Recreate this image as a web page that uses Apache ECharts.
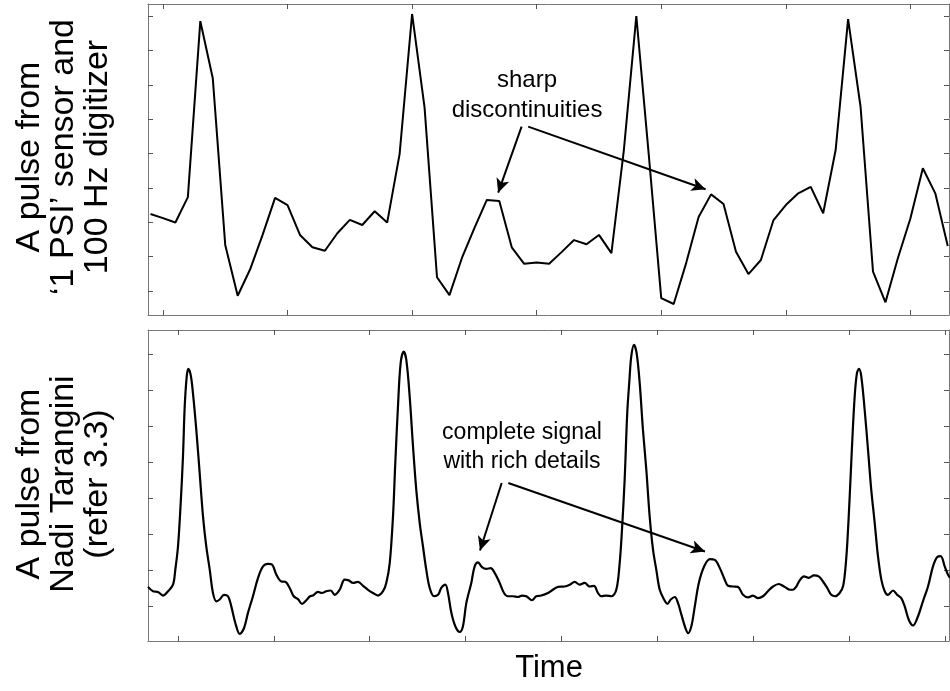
<!DOCTYPE html>
<html>
<head>
<meta charset="utf-8">
<script src="https://cdn.jsdelivr.net/npm/echarts@6/dist/echarts.min.js"></script>
<style>
  html, body { margin: 0; padding: 0; background: #fff; }
  #chart { width: 950px; height: 691px; }
</style>
</head>
<body>
<div id="chart"></div>
<script>
// top panel: '1 PSI' sensor, 100 Hz -> one value per sample, first sample index -1
const topFirstSample = -1;
const topValues = [
    2.24, 2.12, 1.99, 2.73, 7.85, 6.19, 1.34, -0.14, 0.63, 1.63,
    2.71, 2.50, 1.63, 1.27, 1.17, 1.68, 2.07, 1.92, 2.32, 1.99,
    3.99, 8.06, 5.34, 0.40, -0.12, 0.96, 1.83, 2.65, 2.62, 1.27,
    0.79, 0.83, 0.79, 1.13, 1.48, 1.36, 1.63, 1.10, 4.10, 8.00,
    3.96, -0.21, -0.38, 0.81, 2.15, 2.81, 2.53, 1.14, 0.49, 0.90,
    2.05, 2.50, 2.84, 3.03, 2.26, 4.10, 7.91, 5.36, 0.56, -0.33,
    0.96, 2.11, 3.57, 2.84, 1.31
];
const topTicksX = [0, 10, 20, 30, 40, 50, 60];
const topTicksY = [0, 1, 2, 3, 4, 5, 6, 7, 8];

// bottom panel: Nadi Tarangini pulse
const bottomTime = [
    -3.13, -2.61, -2.09, -1.56, -1.04, -0.52, -0.28, 0.00, 0.28, 0.52,
    0.70, 0.91, 1.07, 1.32, 1.56, 1.91, 2.26, 2.61, 2.95, 3.31,
    3.65, 4.00, 4.35, 4.80, 5.22, 5.56, 5.98, 6.44, 6.89, 7.30,
    7.82, 8.35, 8.87, 9.39, 9.81, 10.26, 10.78, 11.19, 11.65, 12.07,
    12.52, 12.94, 13.39, 13.77, 14.08, 14.61, 15.02, 15.47, 15.93, 16.35,
    16.87, 17.39, 17.81, 18.26, 18.78, 19.30, 19.82, 20.34, 20.87, 21.39,
    21.73, 22.09, 22.43, 22.67, 22.95, 23.23, 23.55, 23.82, 24.17, 24.52,
    24.86, 25.22, 25.56, 25.90, 26.26, 26.71, 27.13, 27.47, 27.89, 28.17,
    28.52, 28.93, 29.39, 29.73, 30.08, 30.60, 30.95, 31.30, 31.72, 32.17,
    32.62, 33.04, 33.56, 34.01, 34.43, 34.95, 35.47, 35.89, 36.34, 36.93,
    37.38, 37.90, 38.60, 39.12, 39.64, 40.34, 40.87, 41.39, 41.91, 42.43,
    42.95, 43.40, 43.82, 44.16, 44.68, 45.21, 45.73, 46.08, 46.32, 46.60,
    46.87, 47.10, 47.29, 47.57, 47.85, 48.17, 48.51, 48.86, 49.21, 49.56,
    49.90, 50.26, 50.71, 51.06, 51.41, 51.83, 52.17, 52.52, 52.94, 53.22,
    53.56, 53.92, 54.34, 54.90, 55.49, 56.01, 56.53, 57.04, 57.38, 57.90,
    58.42, 58.95, 59.47, 59.99, 60.51, 61.03, 61.55, 62.08, 62.67, 63.30,
    63.85, 64.16, 64.51, 64.86, 65.31, 65.80, 66.35, 66.84, 67.29, 67.74,
    68.16, 68.57, 69.03, 69.38, 69.62, 69.83, 70.08, 70.32, 70.60, 70.84,
    71.05, 71.29, 71.64, 71.99, 72.33, 72.69, 73.03, 73.38, 73.73, 74.07,
    74.60, 75.04, 75.46, 75.82, 76.24, 76.68, 77.20, 77.72, 78.25, 78.77,
    79.22, 79.57, 79.99, 80.33, 80.54
];
const bottomAmp = [
    0.54, 0.42, 0.40, 0.30, 0.42, 0.60, 1.02, 1.66, 2.86, 4.16,
    5.54, 6.37, 6.58, 6.42, 5.91, 4.89, 3.70, 2.49, 1.66, 1.02,
    0.37, 0.14, 0.19, 0.32, 0.28, 0.00, -0.46, -0.76, -0.60, -0.18,
    0.28, 0.79, 1.11, 1.18, 1.16, 0.88, 0.69, 0.68, 0.51, 0.28,
    0.20, 0.07, 0.17, 0.28, 0.30, 0.40, 0.37, 0.42, 0.44, 0.32,
    0.46, 0.74, 0.72, 0.65, 0.68, 0.57, 0.46, 0.37, 0.30, 0.42,
    0.65, 1.20, 2.49, 3.97, 5.54, 6.74, 7.06, 6.83, 5.82, 4.43,
    3.23, 2.31, 1.66, 1.02, 0.51, 0.28, 0.32, 0.51, 0.60, 0.37,
    -0.18, -0.55, -0.71, -0.55, 0.09, 0.65, 1.11, 1.22, 1.09, 1.04,
    1.06, 0.93, 0.65, 0.37, 0.28, 0.28, 0.26, 0.30, 0.28, 0.17,
    0.28, 0.30, 0.37, 0.46, 0.54, 0.55, 0.60, 0.68, 0.60, 0.65,
    0.55, 0.57, 0.37, 0.28, 0.30, 0.28, 0.46, 1.20, 2.12, 3.51,
    5.36, 6.28, 6.93, 7.25, 7.02, 6.19, 4.89, 3.79, 2.49, 1.57,
    1.02, 0.46, 0.19, 0.07, 0.19, 0.26, 0.09, -0.23, -0.60, -0.74,
    -0.55, 0.00, 0.65, 1.11, 1.31, 1.29, 1.06, 0.74, 0.57, 0.55,
    0.54, 0.32, 0.25, 0.30, 0.23, 0.28, 0.42, 0.55, 0.62, 0.54,
    0.46, 0.46, 0.55, 0.72, 0.83, 0.79, 0.86, 0.83, 0.69, 0.51,
    0.32, 0.28, 0.37, 0.55, 1.02, 1.76, 3.05, 4.43, 5.82, 6.47,
    6.58, 6.37, 5.45, 4.34, 3.23, 2.31, 1.39, 0.74, 0.42, 0.32,
    0.44, 0.32, 0.23, 0.00, -0.37, -0.53, -0.28, 0.14, 0.55, 1.11,
    1.37, 1.39, 1.11, 0.88, 0.79
];
const bottomTicksX = [0, 10, 20, 30, 40, 50, 60, 70, 80];
const bottomTicksY = [0, 1, 2, 3, 4, 5, 6, 7];

const topData = topValues.map((v, i) => [topFirstSample + i, v]);
const bottomData = bottomTime.map((t, i) => [t, bottomAmp[i]]);

const boxColor = '#777';
const font = '"Liberation Sans", Arial, sans-serif';

// one axis of the box frame; ticks point inside, no labels
const frameAxis = (gridIndex, position, min, max, ticks) => ({
    type: 'value',
    gridIndex: gridIndex,
    position: position,
    min: min,
    max: max,
    axisLine: { show: true, onZero: false, lineStyle: { color: boxColor, width: 1 } },
    axisTick: { show: true, inside: true, length: 5, customValues: ticks, lineStyle: { color: '#555', width: 1 } },
    axisLabel: { show: false },
    splitLine: { show: false }
});

const arrowLine = { color: '#000', width: 2, type: 'solid' };

const option = {
    animation: false,
    backgroundColor: '#fff',
    grid: [
        { left: 148, right: 1, top: 4, height: 311 },
        { left: 148, right: 1, top: 330, height: 311 }
    ],
    xAxis: [
        frameAxis(0, 'bottom', -1.2, 63.1, topTicksX),
        frameAxis(0, 'top', -1.2, 63.1, topTicksX),
        frameAxis(1, 'bottom', -3.13, 80.44, bottomTicksX),
        frameAxis(1, 'top', -3.13, 80.44, bottomTicksX)
    ],
    yAxis: [
        frameAxis(0, 'left', -0.7, 8.35, topTicksY),
        frameAxis(0, 'right', -0.7, 8.35, topTicksY),
        frameAxis(1, 'left', -0.96, 7.66, bottomTicksY),
        frameAxis(1, 'right', -0.96, 7.66, bottomTicksY)
    ],
    series: [
        {
            type: 'line',
            xAxisIndex: 0,
            yAxisIndex: 0,
            data: topData,
            showSymbol: false,
            lineStyle: { color: '#000', width: 2 },
            markLine: {
                silent: true,
                symbol: ['none', 'arrow'],
                symbolSize: [10, 14],
                label: { show: false },
                lineStyle: arrowLine,
                data: [
                    [{ coord: [28.79, 4.78] }, { coord: [26.91, 2.86] }],
                    [{ coord: [29.32, 4.78] }, { coord: [43.56, 2.96] }]
                ]
            }
        },
        {
            type: 'line',
            xAxisIndex: 2,
            yAxisIndex: 2,
            data: bottomData,
            showSymbol: false,
            smooth: 0.35,
            lineStyle: { color: '#000', width: 2.2 },
            markLine: {
                silent: true,
                symbol: ['none', 'arrow'],
                symbolSize: [10, 14],
                label: { show: false },
                lineStyle: arrowLine,
                data: [
                    [{ coord: [33.77, 3.42] }, { coord: [31.51, 1.55] }],
                    [{ coord: [34.46, 3.42] }, { coord: [54.98, 1.52] }]
                ]
            }
        }
    ],
    graphic: [
        {
            type: 'text', x: 64, y: 157, rotation: Math.PI / 2,
            style: {
                text: 'A pulse from\n‘1 PSI’ sensor and\n100 Hz digitizer',
                font: '34px ' + font, lineHeight: 34, fill: '#000',
                textAlign: 'center', textVerticalAlign: 'middle', align: 'center', verticalAlign: 'middle'
            }
        },
        {
            type: 'text', x: 64, y: 484, rotation: Math.PI / 2,
            style: {
                text: 'A pulse from\nNadi Tarangini\n(refer 3.3)',
                font: '34px ' + font, lineHeight: 34, fill: '#000',
                textAlign: 'center', textVerticalAlign: 'middle', align: 'center', verticalAlign: 'middle'
            }
        },
        {
            type: 'text', x: 549, y: 668,
            style: {
                text: 'Time', font: '31px ' + font, fill: '#000',
                textAlign: 'center', textVerticalAlign: 'middle', align: 'center', verticalAlign: 'middle'
            }
        },
        {
            type: 'text', x: 527, y: 95,
            style: {
                text: 'sharp\ndiscontinuities', font: '24px ' + font, lineHeight: 30, fill: '#000',
                textAlign: 'center', textVerticalAlign: 'middle', align: 'center', verticalAlign: 'middle'
            }
        },
        {
            type: 'text', x: 522, y: 447.5,
            style: {
                text: 'complete signal\nwith rich details', font: '23px ' + font, lineHeight: 29, fill: '#000',
                textAlign: 'center', textVerticalAlign: 'middle', align: 'center', verticalAlign: 'middle'
            }
        }
    ]
};

const chart = echarts.init(document.getElementById('chart'), null, { renderer: 'canvas' });
chart.setOption(option);
</script>
</body>
</html>
